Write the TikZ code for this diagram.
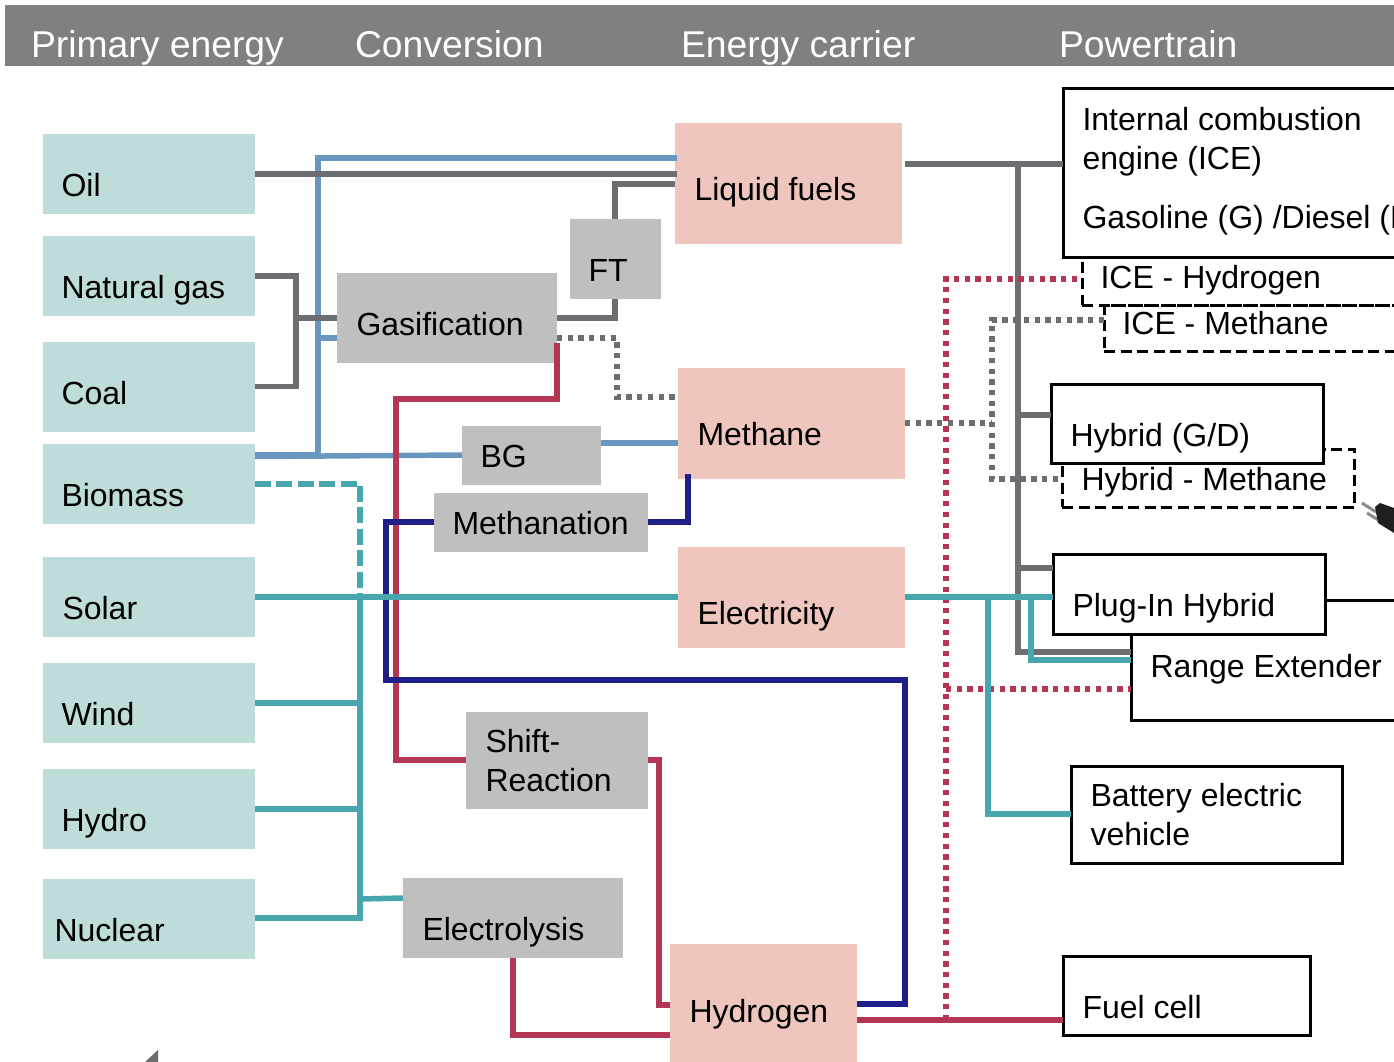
\documentclass[tikz,border=0pt]{standalone}
\usepackage{fontspec}
\setmainfont{Liberation Sans}
\definecolor{hdr}{HTML}{808080}
\definecolor{srcbox}{HTML}{BEDDDA}
\definecolor{carbox}{HTML}{EEC6BE}
\definecolor{conbox}{HTML}{BFBFBF}
\definecolor{lgrey}{HTML}{6D6E71}
\definecolor{lblue}{HTML}{6997BF}
\definecolor{lred}{HTML}{B33655}
\definecolor{lnavy}{HTML}{1F1F8A}
\definecolor{lteal}{HTML}{48A7AE}
\tikzset{
  boxbase/.style={rectangle,inner sep=0pt,outer sep=0pt},
  srcn/.style={boxbase,fill=srcbox},
  carn/.style={boxbase,fill=carbox},
  conn/.style={boxbase,fill=conbox},
  ptn/.style={boxbase,draw=black,fill=white,line width=3pt},
  dashn/.style={boxbase,draw=black,line width=3pt,dash pattern=on 11pt off 5.5pt},
  hdrn/.style={boxbase,fill=hdr},
  lbl/.style={anchor=base west,inner sep=0pt,outer sep=0pt,align=left,text=black,xshift=-0.5pt,font=\fontsize{32}{39}\selectfont},
  hlbl/.style={anchor=base west,inner sep=0pt,outer sep=0pt,text=white,font=\fontsize{37.3}{46}\selectfont},
  wire/.style={line width=5.5pt},
  grey/.style={wire,draw=lgrey},
  blue/.style={wire,draw=lblue},
  red/.style={wire,draw=lred},
  navy/.style={wire,draw=lnavy},
  teal/.style={wire,draw=lteal},
  dots/.style={line width=5.5pt,dash pattern=on 5.3pt off 5.4pt},
  teald/.style={line width=5.5pt,draw=lteal,dash pattern=on 16pt off 5.4pt},
}
\newcommand{\bx}[6]{\node[#2,minimum width={(#5-#3)*1pt},minimum height={(#6-#4)*1pt}] (#1) at ({(#3+#5)/2},{(#4+#6)/2}) {};}
\newcommand{\tx}[5][lbl]{\node[#1] (#2) at (#3,#4) {#5};}
\begin{document}
\begin{tikzpicture}[x=1pt,y=-1pt]
\useasboundingbox (0,0) rectangle (1394,1062);
\clip (0,0) rectangle (1394,1062);
% header
\bx{head}{hdrn}{5}{5}{1420}{66}
\tx[hlbl]{h1}{31}{58}{Primary energy}
\tx[hlbl]{h2}{355}{58}{Conversion}
\tx[hlbl]{h3}{681}{58}{Energy carrier}
\tx[hlbl]{h4}{1059}{58}{Powertrain}
% sources
\bx{oil}{srcn}{43}{134}{255}{214}
\bx{gas}{srcn}{43}{236}{255}{316}
\bx{coal}{srcn}{43}{342}{255}{432}
\bx{bio}{srcn}{43}{444}{255}{524}
\bx{sol}{srcn}{43}{557}{255}{637}
\bx{wind}{srcn}{43}{663}{255}{743}
\bx{hyd}{srcn}{43}{769}{255}{849}
\bx{nuc}{srcn}{43}{879}{255}{959}
% conversion
\bx{gsf}{conn}{337}{273}{557}{363}
\bx{ft}{conn}{570}{219}{661}{299}
\bx{bg}{conn}{462}{426}{601}{485}
\bx{mtn}{conn}{434}{493}{648}{552}
\bx{shf}{conn}{466}{712}{648}{809}
\bx{ely}{conn}{403}{878}{623}{958}
% carriers
\bx{liq}{carn}{675}{123}{902}{244}
\bx{met}{carn}{678}{368}{905}{479}
\bx{ele}{carn}{678}{547}{905}{648}
\bx{hgn}{carn}{670}{944}{857}{1062}
% powertrain boxes
\bx{ih}{dashn}{1082}{250}{1420}{305}
\bx{im}{dashn}{1104}{305}{1420}{351}
\bx{hm}{dashn}{1062}{449}{1354.5}{507}
\bx{ice}{ptn}{1063}{89}{1420}{257}
\bx{hgd}{ptn}{1051}{384}{1323.5}{463}
\bx{rex}{ptn}{1131}{600}{1420}{720}
\bx{phv}{ptn}{1053}{554}{1325.5}{634}
\bx{bev}{ptn}{1071}{766}{1342.5}{863}
\bx{fc}{ptn}{1063}{956}{1310.5}{1035}
% connectors: blue
\draw[blue] (bio.east |- 0,454.5) -- (318,454.5) -- (318,158) -- (liq.west |- 0,158) -- ++(2,0);
\draw[blue] (318,338) -- (gsf.west |- 0,338);
\draw[blue] (bio.east |- 0,456.5) -- (bg.west |- 0,455);
\draw[blue] (bg.east |- 0,443) -- (met.west |- 0,443);
% grey
\draw[grey] (oil.east) -- (liq.west |- oil.east) -- ++(2,0);
\draw[grey] (gas.east |- 0,276) -- (296,276) -- (296,386.5) -- (coal.east |- 0,386.5);
\draw[grey] (296,318) -- (gsf.west |- 0,318);
\draw[grey] (gsf.east |- 0,318) -- (615,318) -- (615,299);
\draw[grey] (615,219) -- (615,184) -- (liq.west |- 0,184);
\draw[grey,dots] (gsf.east |- 0,338) -- (617,338) -- (617,397) -- (met.west |- 0,397);
\draw[grey] (met.east |- 0,164) -- (ice.west |- 0,164);
\draw[grey] (1018,164) -- (1018,652) -- (rex.west |- 0,652);
\draw[grey] (1018,415) -- (hgd.west |- 0,415);
\draw[grey] (1018,568) -- (phv.west |- 0,568);
\draw[grey,dots] (met.east |- 0,423) -- (992,423);
\draw[grey,dots] (im.west |- 0,320) -- (992,320) -- (992,479) -- (hm.west |- 0,479);
% red
\draw[red] (557,343) -- (557,399) -- (396,399) -- (396,760) -- (shf.west |- 0,760);
\draw[red] (ely.south |- 513,958) -- (513,1035) -- (hgn.west |- 0,1035);
\draw[red] (shf.east |- 0,760) -- (659,760) -- (659,1005) -- (hgn.west |- 0,1005);
\draw[red] (hgn.east |- 0,1020) -- (fc.west |- 0,1020);
\draw[lred,dots] (946,1020) -- (946,279) -- (ih.west |- 0,279);
\draw[lred,dots] (946,689) -- (rex.west |- 0,689);
% navy
\draw[navy] (mtn.west |- 0,522) -- (386,522) -- (386,680) -- (905,680) -- (905,1004) -- (hgn.east |- 0,1004);
\draw[navy] (mtn.east |- 0,522) -- (688,522) -- (688,474);
% teal
\draw[teald] (bio.east |- 0,484) -- (360,484) -- (360,597);
\draw[teal] (sol.east |- 0,597) -- (ele.west |- 0,597);
\draw[teal] (360,597) -- (360,918) -- (nuc.east |- 0,918);
\draw[teal] (wind.east) -- (360,703);
\draw[teal] (hyd.east) -- (360,809);
\draw[teal] (360,899) -- (ely.west |- 0,898);
\draw[teal] (ele.east |- 0,597) -- (phv.west |- 0,597);
\draw[teal] (988,597) -- (988,814) -- (bev.west |- 0,814);
\draw[teal] (1031,597) -- (1031,660) -- (rex.west |- 0,660);
% decorative fragments
\draw[black!45,line width=3pt] (1362,503) -- (1376,512) (1367,513) -- (1380,521);
\fill[black!88] (1375,507) -- (1380,503) -- (1394,508) -- (1394,533) -- (1378,523) -- cycle;
\fill[hdr!85!black] (158,1050) -- (158,1062) -- (145,1062) -- cycle;
% labels
\tx{toil}{62}{196}{Oil}
\tx{tgas}{62}{298}{Natural gas}
\tx{tcoal}{62}{404}{Coal}
\tx{tbio}{62}{506}{Biomass}
\tx{tsol}{63}{619}{Solar}
\tx{twind}{62}{725}{Wind}
\tx{thyd}{62}{831}{Hydro}
\tx{tnuc}{55}{941}{Nuclear}
\tx{tgsf}{357}{335}{Gasification}
\tx{tft}{589}{281}{FT}
\tx{tbg}{481}{467}{BG}
\tx{tmtn}{453}{534}{Methanation}
\tx{tshf}{486}{791}{Shift-\\Reaction}
\tx{tely}{423}{940}{Electrolysis}
\tx{tliq}{695}{200}{Liquid fuels}
\tx{tmet}{698}{445}{Methane}
\tx{tele}{698}{624}{Electricity}
\tx{thgn}{690}{1022}{Hydrogen}
\tx{tice}{1083}{228}{Internal combustion\\engine (ICE)\\[20pt]Gasoline (G) /Diesel (D)}
\tx{tih}{1101}{288}{ICE - Hydrogen}
\tx{tim}{1123}{334}{ICE - Methane}
\tx{thgd}{1071}{446}{Hybrid (G/D)}
\tx{thm}{1082}{490}{Hybrid - Methane}
\tx{tphv}{1073}{616}{Plug-In Hybrid}
\tx{trex}{1151}{677}{Range Extender}
\tx{tbev}{1091}{845.5}{Battery electric\\vehicle}
\tx{tfc}{1083}{1018}{Fuel cell}
\end{tikzpicture}
\end{document}
